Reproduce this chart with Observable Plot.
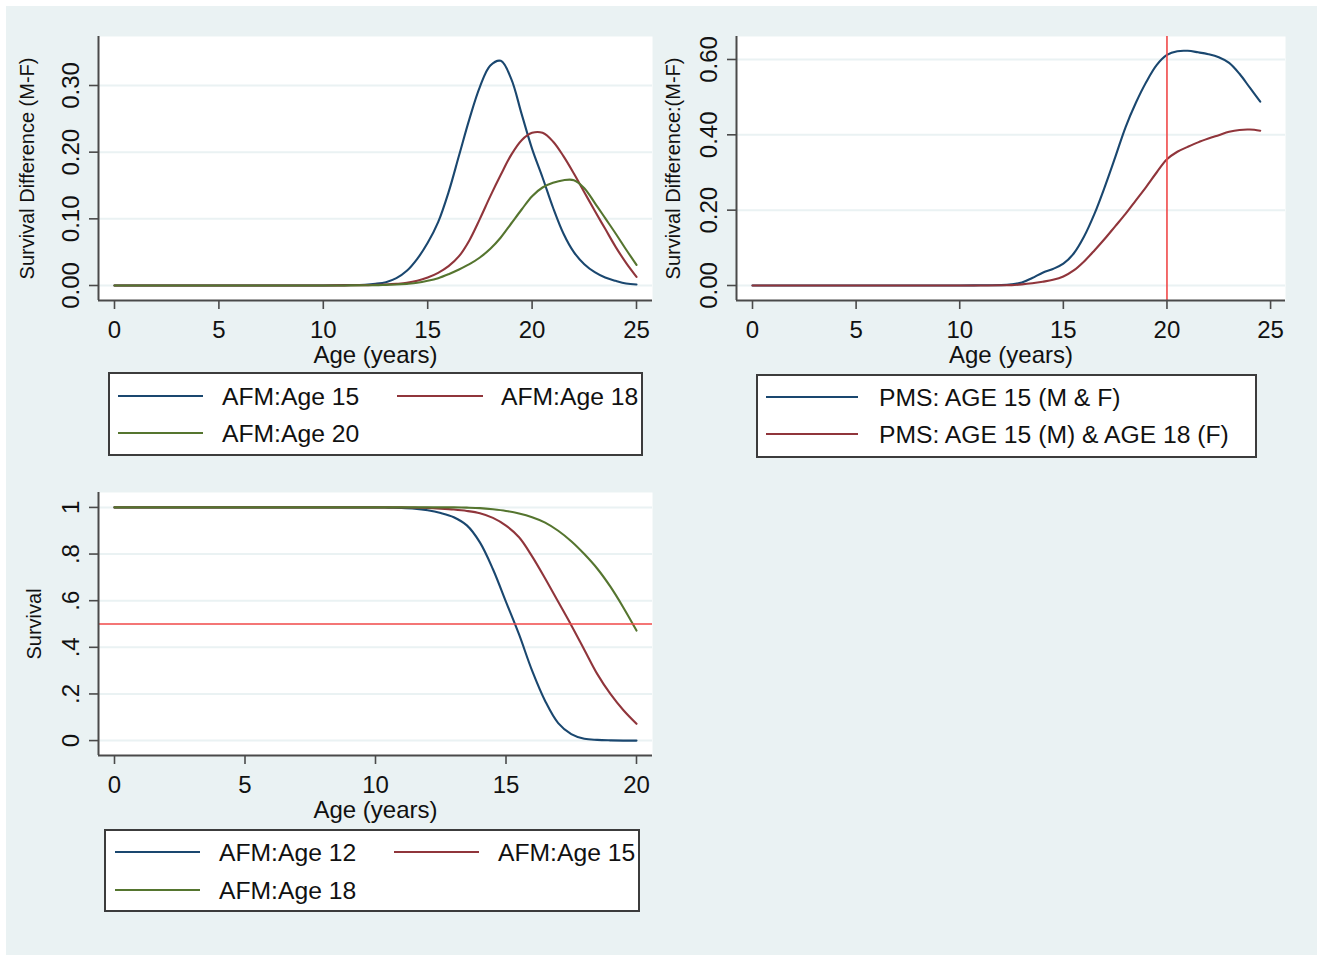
<!DOCTYPE html>
<html><head><meta charset="utf-8">
<script src="https://cdn.jsdelivr.net/npm/d3@7"></script>
<script src="https://cdn.jsdelivr.net/npm/@observablehq/plot@0.6"></script>
<style>
html,body{margin:0;padding:0;background:#fff;}
body{width:1317px;height:955px;position:relative;overflow:hidden;font-family:"Liberation Sans",Arial,sans-serif;}
#page{position:absolute;left:6px;top:6px;right:0;bottom:0;background:#eaf2f3;}
.panel{position:absolute;}
.panel svg{overflow:visible;}
.legend{position:absolute;background:#fff;border:2px solid #3c3c3c;box-sizing:border-box;}
.legend .sw{position:absolute;height:0;border-top:2.5px solid;}
.legend .tx{position:absolute;font-size:24.7px;line-height:25px;color:#111;white-space:nowrap;transform:translateY(-50%);}
</style></head><body>
<div id="page"></div>
<div id="p1" class="panel" style="left:0;top:0"></div>
<div id="p2" class="panel" style="left:660px;top:0"></div>
<div id="p3" class="panel" style="left:0;top:456px"></div>
<div id="legends"></div>
<script>
// ---------- DATA ----------
// Panel 1: Survival difference (M-F) by age at first marriage
const p1Ages = [0,2,4,6,8,10,11,12,12.5,13,13.5,14,14.5,15,15.5,16,16.5,17,17.5,18,18.5,19,19.5,20,20.5,21,21.5,22,22.5,23,23.5,24,24.5,25];
const p1Afm15 = [0,0,0,0,0,0,0.0005,0.0012,0.0025,0.005,0.011,0.022,0.04,0.064,0.095,0.14,0.195,0.25,0.298,0.33,0.337,0.31,0.257,0.205,0.162,0.117,0.078,0.05,0.032,0.02,0.012,0.007,0.003,0.0015];
const p1Afm18 = [0,0,0,0,0,0,0.0002,0.0005,0.001,0.0015,0.0025,0.004,0.007,0.012,0.019,0.029,0.044,0.068,0.1,0.134,0.166,0.196,0.218,0.229,0.229,0.216,0.194,0.168,0.14,0.112,0.085,0.058,0.034,0.013];
const p1Afm20 = [0,0,0,0,0,0,0.0001,0.0003,0.0005,0.001,0.0015,0.0025,0.004,0.007,0.011,0.017,0.024,0.032,0.042,0.055,0.072,0.093,0.114,0.134,0.147,0.154,0.158,0.158,0.146,0.124,0.101,0.078,0.054,0.031];
const p1Names = ["AFM:Age 15","AFM:Age 18","AFM:Age 20"];
const p1XTicks = [0,5,10,15,20,25];
const p1YTicks = [0,0.1,0.2,0.3];
const p1YLabels = ["0.00","0.10","0.20","0.30"];
const p1XDomain = [-0.766,25.766];
const p1YDomain = [-0.0225,0.3735];

// Panel 2: PMS survival difference
const p2Ages = [0,2,4,6,8,10,11,12,12.5,13,13.5,14,14.5,15,15.5,16,16.5,17,17.5,18,18.5,19,19.5,20,20.5,21,21.5,22,22.5,23,23.5,24,24.5];
const p2Pms15Both = [0,0,0,0,0,0,0.0005,0.001,0.003,0.008,0.02,0.034,0.044,0.058,0.085,0.13,0.19,0.262,0.34,0.42,0.485,0.54,0.585,0.612,0.622,0.623,0.619,0.614,0.606,0.591,0.562,0.525,0.488];
const p2Pms15m18f = [0,0,0,0,0,0,0,0.0005,0.001,0.003,0.006,0.01,0.015,0.024,0.04,0.064,0.093,0.124,0.157,0.19,0.226,0.262,0.3,0.335,0.355,0.368,0.38,0.39,0.399,0.408,0.413,0.414,0.411];
const p2Names = ["PMS: AGE 15 (M & F)","PMS: AGE 15 (M) & AGE 18 (F)"];
const p2RefX = [20];
const p2XTicks = [0,5,10,15,20,25];
const p2YTicks = [0,0.2,0.4,0.6];
const p2YLabels = ["0.00","0.20","0.40","0.60"];
const p2XDomain = [-0.772,25.72];
const p2YDomain = [-0.0398,0.661];

// Panel 3: Survival by age at first marriage
const p3Ages = [0,2,4,6,8,10,10.5,11,11.5,12,12.5,13,13.5,14,14.5,15,15.5,16,16.5,17,17.5,18,18.5,19,19.5,20];
const p3Afm12 = [1,1,1,1,1,1,0.999,0.998,0.995,0.988,0.976,0.958,0.923,0.85,0.735,0.595,0.455,0.3,0.17,0.075,0.028,0.008,0.003,0.001,0,0];
const p3Afm15 = [1,1,1,1,1,1,1,1,0.999,0.998,0.995,0.991,0.985,0.975,0.955,0.922,0.872,0.79,0.695,0.595,0.495,0.39,0.285,0.2,0.13,0.072];
const p3Afm18 = [1,1,1,1,1,1,1,1,1,1,1,1,0.999,0.997,0.992,0.985,0.974,0.958,0.935,0.9,0.855,0.8,0.737,0.66,0.57,0.472];
const p3Names = ["AFM:Age 12","AFM:Age 15","AFM:Age 18"];
const p3RefY = [0.5];
const p3XTicks = [0,5,10,15,20];
const p3YTicks = [0,0.2,0.4,0.6,0.8,1];
const p3YLabels = ["0",".2",".4",".6",".8","1"];
const p3XDomain = [-0.613,20.613];
const p3YDomain = [-0.064,1.064];

const xTitle = "Age (years)";
const seriesColors = ["#1a476f","#90353b","#55752f"];
const GRID = "#eaf2f3", AXIS = "#4a4a4a", REF = "#f04848", FONT = "Liberation Sans, Arial, sans-serif";

function build(o) {
  const data = o.series.flatMap((vals, k) => o.ages.map((a, i) => ({age: a, v: vals[i], name: o.names[k]})));
  const lab = new Map(o.yTicks.map((t, i) => [t, o.yLabels[i]]));
  const marks = [
    Plot.frame({fill: "white", stroke: null}),
    Plot.gridY(o.yTicks, {stroke: GRID, strokeOpacity: 1, strokeWidth: 2}),
    Plot.lineY(data, {x: "age", y: "v", z: "name", stroke: "name", strokeWidth: 2.1, curve: "catmull-rom"}),
  ];
  if (o.refX) marks.push(Plot.ruleX(o.refX, {stroke: REF, strokeWidth: 1.6}));
  if (o.refY) marks.push(Plot.ruleY(o.refY, {stroke: REF, strokeWidth: 1.6}));
  marks.push(
    Plot.ruleX([o.xDomain[0]], {stroke: AXIS, strokeWidth: 2}),
    Plot.ruleY([o.yDomain[0]], {stroke: AXIS, strokeWidth: 2}),
    Plot.axisX(o.xTicks, {tickSize: 9, tickPadding: 11, fontSize: 24, label: null, stroke: AXIS, strokeWidth: 1.6, tickFormat: d => String(d)}),
    Plot.axisY(o.yTicks, {tickSize: 9, tickPadding: 11, tickRotate: -90, fontSize: 24, label: null, stroke: AXIS, strokeWidth: 1.6, tickFormat: d => lab.get(d)}),
    Plot.text([xTitle], {frameAnchor: "bottom", dy: 45, lineAnchor: "top", textAnchor: "middle", fontSize: 24, fill: "#111"}),
    Plot.text([o.yTitle], {frameAnchor: "left", dx: o.yTitleDx, rotate: -90, textAnchor: "middle", lineAnchor: "middle", fontSize: 20, fill: "#111"})
  );
  const svg = Plot.plot({
    width: o.width, height: o.height,
    marginLeft: o.m[0], marginTop: o.m[1], marginRight: o.m[2], marginBottom: o.m[3],
    x: {domain: o.xDomain, axis: null},
    y: {domain: o.yDomain, axis: null},
    color: {domain: o.names, range: seriesColors},
    style: {background: "transparent", color: "#111", fontFamily: FONT, overflow: "visible"},
    marks
  });
  document.getElementById(o.el).appendChild(svg);
}

build({el: "p1", width: 660, height: 372, m: [98, 36, 8, 72], ages: p1Ages, series: [p1Afm15, p1Afm18, p1Afm20], names: p1Names,
  xDomain: p1XDomain, yDomain: p1YDomain, xTicks: p1XTicks, yTicks: p1YTicks, yLabels: p1YLabels,
  yTitle: "Survival Difference (M-F)", yTitleDx: -71});
build({el: "p2", width: 657, height: 372, m: [76, 36, 32, 72], ages: p2Ages, series: [p2Pms15Both, p2Pms15m18f], names: p2Names,
  xDomain: p2XDomain, yDomain: p2YDomain, xTicks: p2XTicks, yTicks: p2YTicks, yLabels: p2YLabels,
  yTitle: "Survival Difference:(M-F)", yTitleDx: -63, refX: p2RefX});
build({el: "p3", width: 660, height: 372, m: [98, 36, 8, 73], ages: p3Ages, series: [p3Afm12, p3Afm15, p3Afm18], names: p3Names,
  xDomain: p3XDomain, yDomain: p3YDomain, xTicks: p3XTicks, yTicks: p3YTicks, yLabels: p3YLabels,
  yTitle: "Survival", yTitleDx: -64, refY: p3RefY});

// ---------- LEGENDS ----------
function legend(box, names, slots) {
  const d = document.createElement("div");
  d.className = "legend";
  Object.assign(d.style, {left: box[0] + "px", top: box[1] + "px", width: box[2] + "px", height: box[3] + "px"});
  names.forEach((n, i) => {
    const s = slots[i];
    const sw = document.createElement("div");
    sw.className = "sw";
    Object.assign(sw.style, {left: s[0] + "px", width: s[1] + "px", top: (s[3] - 1) + "px", borderTopColor: seriesColors[i]});
    const tx = document.createElement("div");
    tx.className = "tx";
    tx.textContent = n;
    Object.assign(tx.style, {left: s[2] + "px", top: s[3] + "px"});
    d.appendChild(sw); d.appendChild(tx);
  });
  document.getElementById("legends").appendChild(d);
}
legend([108, 372, 535, 84], p1Names, [[8, 85, 112, 22], [287, 86, 391, 22], [8, 85, 112, 59]]);
legend([756, 374, 501, 84], p2Names, [[8, 92, 121, 21], [8, 92, 121, 58]]);
legend([104, 829, 536, 83], p3Names, [[9, 85, 113, 21], [288, 85, 392, 21], [9, 85, 113, 59]]);
</script>
</body></html>
